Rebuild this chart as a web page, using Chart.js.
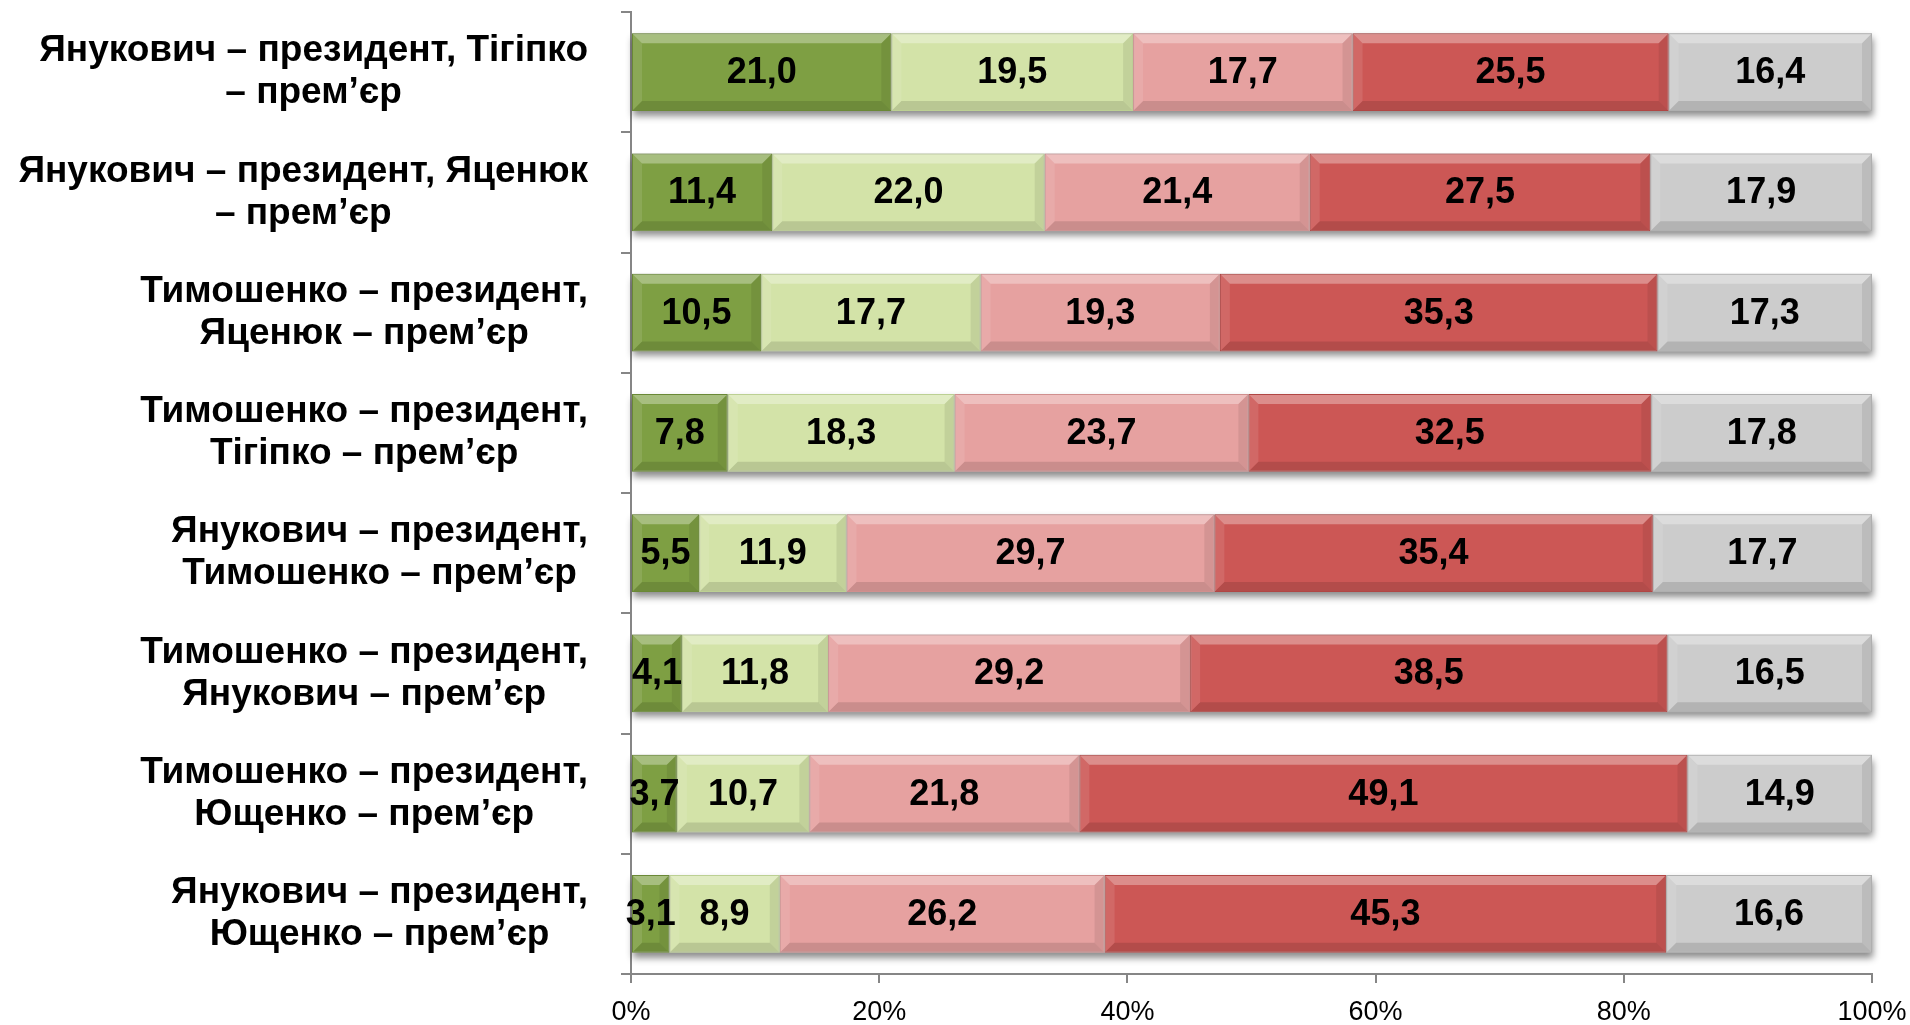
<!DOCTYPE html>
<html lang="uk">
<head>
    <meta charset="UTF-8">
    <title>Президент / прем'єр</title>
    <script src="https://cdn.jsdelivr.net/npm/chart.js"></script>
    <style>
        html, body { margin: 0; padding: 0; background: #fff; }
        #wrap { width: 1910px; height: 1025px; }
    </style>
</head>
<body>
    <div id="wrap"><canvas id="tandemChart"></canvas></div>
    <script>
        // categories, top to bottom
        const categories = [
            ['Янукович – президент, Тігіпко', '– прем’єр'],
            ['Янукович – президент, Яценюк', '– прем’єр'],
            ['Тимошенко – президент,', 'Яценюк – прем’єр'],
            ['Тимошенко – президент,', 'Тігіпко – прем’єр'],
            ['Янукович – президент,', 'Тимошенко – прем’єр'],
            ['Тимошенко – президент,', 'Янукович – прем’єр'],
            ['Тимошенко – президент,', 'Ющенко – прем’єр'],
            ['Янукович – президент,', 'Ющенко – прем’єр']
        ];

        const series1 = [21.0, 11.4, 10.5, 7.8, 5.5, 4.1, 3.7, 3.1];
        const series2 = [19.5, 22.0, 17.7, 18.3, 11.9, 11.8, 10.7, 8.9];
        const series3 = [17.7, 21.4, 19.3, 23.7, 29.7, 29.2, 21.8, 26.2];
        const series4 = [25.5, 27.5, 35.3, 32.5, 35.4, 38.5, 49.1, 45.3];
        const series5 = [16.4, 17.9, 17.3, 17.8, 17.7, 16.5, 14.9, 16.6];

        const xTicks = [0, 20, 40, 60, 80, 100];

        const allSeries = [series1, series2, series3, series4, series5];
        const fills = ['#7E9F43', '#D3E3A8', '#E6A1A0', '#CC5755', '#CCCCCC'];
        const edges = ['#6A8836', '#BCD093', '#D08F8E', '#B04644', '#AFAFAF'];

        // 100% stacked: each row scaled to its total
        const rowTotals = categories.map((c, i) => allSeries.reduce((s, arr) => s + arr[i], 0));

        const fontFamily = '"Liberation Sans", Arial, sans-serif';

        const bevelPlugin = {
            id: 'bevel',
            beforeDatasetsDraw(chart) {
                const ctx = chart.ctx;
                const first = chart.getDatasetMeta(0).data;
                const last = chart.getDatasetMeta(allSeries.length - 1).data;
                ctx.save();
                ctx.shadowColor = 'rgba(0,0,0,0.45)';
                ctx.shadowBlur = 7;
                ctx.shadowOffsetY = 5;
                ctx.shadowOffsetX = 1;
                ctx.fillStyle = '#bbb';
                first.forEach((el, i) => {
                    const a = el.getProps(['base', 'y', 'height'], true);
                    const b = last[i].getProps(['x'], true);
                    ctx.fillRect(a.base, a.y - a.height / 2, b.x - a.base, a.height);
                });
                ctx.restore();
            },
            afterDatasetsDraw(chart) {
                const ctx = chart.ctx;
                const bv = 9;
                ctx.save();
                chart.data.datasets.forEach((ds, di) => {
                    chart.getDatasetMeta(di).data.forEach((el, i) => {
                        const p = el.getProps(['x', 'y', 'base', 'height'], true);
                        const L = Math.min(p.base, p.x) + 1, R = Math.max(p.base, p.x) - 1;
                        const T = p.y - p.height / 2 + 1, B = p.y + p.height / 2 - 1;
                        const b = Math.min(bv, (R - L) / 2);
                        const poly = (pts, col) => {
                            ctx.beginPath();
                            ctx.moveTo(pts[0][0], pts[0][1]);
                            pts.slice(1).forEach(q => ctx.lineTo(q[0], q[1]));
                            ctx.closePath();
                            ctx.fillStyle = col;
                            ctx.fill();
                        };
                        poly([[L, T], [R, T], [R - b, T + bv], [L + b, T + bv]], 'rgba(255,255,255,0.32)');
                        poly([[L, T], [L + b, T + bv], [L + b, B - bv], [L, B]], 'rgba(255,255,255,0.10)');
                        poly([[R, T], [R, B], [R - b, B - bv], [R - b, T + bv]], 'rgba(0,0,0,0.08)');
                        poly([[L, B], [R, B], [R - b, B - bv], [L + b, B - bv]], 'rgba(0,0,0,0.12)');
                    });
                });
                // value labels
                ctx.fillStyle = '#000';
                ctx.font = 'bold 36px ' + fontFamily;
                ctx.textAlign = 'center';
                ctx.textBaseline = 'middle';
                chart.data.datasets.forEach((ds, di) => {
                    chart.getDatasetMeta(di).data.forEach((el, i) => {
                        const p = el.getProps(['x', 'y', 'base'], true);
                        const txt = allSeries[di][i].toFixed(1).replace('.', ',');
                        ctx.fillText(txt, (p.x + p.base) / 2, p.y + 1);
                    });
                });
                ctx.restore();
            },
            afterDraw(chart) {
                // category labels: block right-aligned, lines centred
                const ctx = chart.ctx;
                const yScale = chart.scales.y;
                const rightEdge = 588;
                const lh = 42;
                ctx.save();
                ctx.fillStyle = '#000';
                ctx.font = 'bold 37px ' + fontFamily;
                ctx.textAlign = 'center';
                ctx.textBaseline = 'middle';
                categories.forEach((lines, i) => {
                    const yc = yScale.getPixelForValue(i);
                    const w = Math.max(...lines.map(t => ctx.measureText(t).width));
                    const cx = rightEdge - w / 2;
                    lines.forEach((t, k) => {
                        ctx.fillText(t, cx, yc - (lines.length - 1) * lh / 2 + k * lh);
                    });
                });
                ctx.restore();
            }
        };

        const tandemChart = new Chart(document.getElementById('tandemChart'), {
            type: 'bar',
            data: {
                labels: categories,
                datasets: allSeries.map((arr, k) => ({
                    label: 'S' + (k + 1),
                    data: arr.map((v, i) => v / rowTotals[i] * 100),
                    backgroundColor: fills[k],
                    borderColor: edges[k],
                    borderWidth: 1,
                    borderSkipped: false,
                    categoryPercentage: 1,
                    barPercentage: 0.645
                }))
            },
            options: {
                indexAxis: 'y',
                responsive: true,
                maintainAspectRatio: false,
                animation: false,
                layout: { autoPadding: false, padding: { top: 12, right: 38, left: 0, bottom: 0 } },
                plugins: {
                    legend: { display: false },
                    tooltip: { enabled: false }
                },
                scales: {
                    x: {
                        stacked: true,
                        min: 0,
                        max: 100,
                        afterBuildTicks: s => { s.ticks = xTicks.map(v => ({ value: v })); },
                        afterFit: s => {
                            s.height = 51;
                            s.paddingLeft = 0;
                            s.paddingRight = 0;
                        },
                        border: { color: '#868686', width: 2 },
                        grid: { drawOnChartArea: false, drawTicks: true, tickLength: 9, color: '#868686', lineWidth: 2 },
                        ticks: {
                            callback: v => v + '%',
                            color: '#000',
                            padding: 13,
                            font: { family: fontFamily, size: 27 }
                        }
                    },
                    y: {
                        stacked: true,
                        afterFit: s => {
                            s.width = 631;
                            s.paddingTop = 0;
                            s.paddingBottom = 0;
                        },
                        border: { color: '#868686', width: 2 },
                        grid: { drawOnChartArea: false, drawTicks: true, tickLength: 10, color: '#868686', lineWidth: 2 },
                        ticks: { display: false }
                    }
                }
            },
            plugins: [bevelPlugin]
        });
    </script>
</body>
</html>
